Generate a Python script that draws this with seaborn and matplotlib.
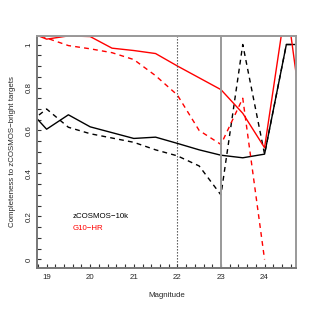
import numpy as np
import pandas as pd
import matplotlib
matplotlib.use("Agg")
import matplotlib.pyplot as plt
from matplotlib.ticker import MultipleLocator
import seaborn as sns

# magnitude bins (0.5 mag steps)
mags = [18.5, 19.0, 19.5, 20.0, 20.5, 21.0, 21.5, 22.0, 22.5, 23.0, 23.5, 24.0, 24.5, 25.0]

zc10k_solid  = [0.717, 0.606, 0.673, 0.617, 0.590, 0.563, 0.569, 0.540, 0.510, 0.485, 0.473, 0.490, 1.00, 1.00]
zc10k_dashed = [0.620, 0.700, 0.615, 0.585, 0.565, 0.545, 0.510, 0.482, 0.435, 0.300, 1.000, 0.490, 1.00, 1.00]
g10hr_solid  = [1.066, 1.025, 1.040, 1.037, 0.983, 0.972, 0.958, 0.900, 0.845, 0.790, 0.680, 0.520, 1.20, 0.45]
g10hr_dashed = [1.080, 1.030, 0.995, 0.980, 0.962, 0.930, 0.855, 0.765, 0.600, 0.535, 0.750, 0.000, np.nan, np.nan]

legend_labels = ["zCOSMOS\u221210k", "G10\u2212HR"]
legend_colors = ["black", "red"]

x_ticks = [19, 20, 21, 22, 23, 24]
y_ticks = [0, 0.2, 0.4, 0.6, 0.8, 1.0]
y_tick_labels = ["0", "0.2", "0.4", "0.6", "0.8", "1"]

sns.set_style("white")
plt.rcParams["font.family"] = ["Liberation Sans", "DejaVu Sans"]

fig = plt.figure(figsize=(3.15, 3.15), dpi=100)
ax = fig.add_axes([0.1175, 0.149, 0.822, 0.737])

series = [
    (zc10k_solid,  "black", "-"),
    (zc10k_dashed, "black", "--"),
    (g10hr_solid,  "red",   "-"),
    (g10hr_dashed, "red",   "--"),
]
for vals, col, ls in series:
    df = pd.DataFrame({"mag": mags, "compl": vals}).dropna()
    sns.lineplot(data=df, x="mag", y="compl", color=col, lw=1.0,
                 ax=ax, sort=False, estimator=None)
    if ls == "--":
        ax.lines[-1].set_dashes((3.5, 3.0))

ax.axvline(22, color="#444444", lw=0.8, ls=(0, (1.2, 1.5)))
ax.axvline(23, color="#999999", lw=1.4)

ax.set_xlim(18.78, 24.72)
ax.set_ylim(-0.04, 1.04)

ax.set_xticks(x_ticks)
ax.set_xticklabels([str(t) for t in x_ticks])
ax.set_yticks(y_ticks)
ax.set_yticklabels(y_tick_labels, rotation=90, va="center")
ax.xaxis.set_minor_locator(MultipleLocator(0.2))
ax.yaxis.set_minor_locator(MultipleLocator(0.05))
ax.tick_params(which="both", direction="in", length=3, width=0.8,
               color="#333333", labelsize=5.7, pad=4,
               bottom=True, left=True, top=False, right=False)
ax.tick_params(axis="y", pad=3)

for side in ["top", "right"]:
    ax.spines[side].set_color("#999999")
    ax.spines[side].set_linewidth(1.4)
for side in ["left", "bottom"]:
    ax.spines[side].set_color("#777777")
    ax.spines[side].set_linewidth(1.4)

ax.set_xlabel("Magnitude", fontsize=5.7, labelpad=8)
ax.set_ylabel("Completeness to zCOSMOS\u2212bright targets", fontsize=5.7, labelpad=7)

ax.text(19.6, 0.20, legend_labels[0], color=legend_colors[0], fontsize=5.7, va="center")
ax.text(19.6, 0.145, legend_labels[1], color=legend_colors[1], fontsize=5.7, va="center")

fig.savefig("out.png", dpi=100)
